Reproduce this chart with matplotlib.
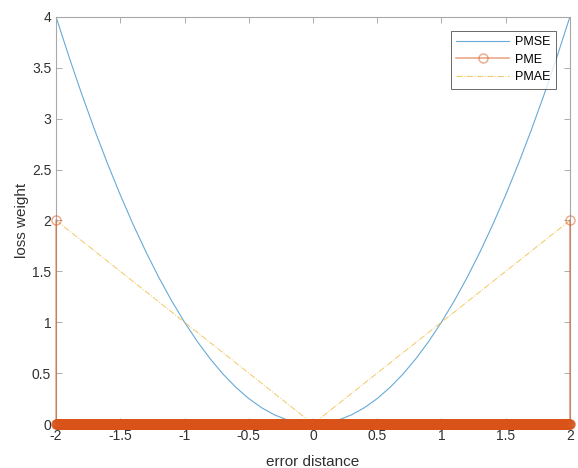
import numpy as np
import matplotlib
matplotlib.use('Agg')
import matplotlib.pyplot as plt

plt.rcParams['font.family'] = ['Liberation Sans', 'DejaVu Sans']

# PMSE at steps of 0.1
pmse_x = [-2.0, -1.9, -1.8, -1.7, -1.6, -1.5, -1.4, -1.3, -1.2, -1.1, -1.0,
          -0.9, -0.8, -0.7, -0.6, -0.5, -0.4, -0.3, -0.2, -0.1, 0.0,
          0.1, 0.2, 0.3, 0.4, 0.5, 0.6, 0.7, 0.8, 0.9, 1.0,
          1.1, 1.2, 1.3, 1.4, 1.5, 1.6, 1.7, 1.8, 1.9, 2.0]
pmse_y = [4.0, 3.61, 3.24, 2.89, 2.56, 2.25, 1.96, 1.69, 1.44, 1.21, 1.0,
          0.81, 0.64, 0.49, 0.36, 0.25, 0.16, 0.09, 0.04, 0.01, 0.0,
          0.01, 0.04, 0.09, 0.16, 0.25, 0.36, 0.49, 0.64, 0.81, 1.0,
          1.21, 1.44, 1.69, 1.96, 2.25, 2.56, 2.89, 3.24, 3.61, 4.0]

# PME: zero everywhere, spikes to 2 at the two edges
pme_count = 1601
pme_edge = 2.0
pme_inner = 0.0

# PMAE corner points
pmae_x = [-2.0, 0.0, 2.0]
pmae_y = [2.0, 0.0, 2.0]

xticks = [-2, -1.5, -1, -0.5, 0, 0.5, 1, 1.5, 2]
xtick_labels = ['-2', '-1.5', '-1', '-0.5', '0', '0.5', '1', '1.5', '2']
yticks = [0, 0.5, 1, 1.5, 2, 2.5, 3, 3.5, 4]
ytick_labels = ['0', '0.5', '1', '1.5', '2', '2.5', '3', '3.5', '4']

inner_x = np.linspace(pmse_x[0], pmse_x[-1], pme_count)
pme_x = np.concatenate([[pmse_x[0]], inner_x, [pmse_x[-1]]])
pme_y = np.concatenate([[pme_edge], np.full(pme_count, pme_inner), [pme_edge]])

fig = plt.figure(figsize=(5.78, 4.68), dpi=100)
ax = fig.add_axes([0.097, 0.094, 0.889, 0.870])

ax.plot(pmse_x, pmse_y, color='#0072BD', linewidth=0.8, alpha=0.6, label='PMSE')
ax.plot(pme_x, pme_y, color='#D95319', linewidth=1.2, alpha=0.5, marker='o',
        markersize=6.5, markerfacecolor='none', markeredgewidth=1.0,
        clip_on=False, zorder=3, label='PME')
ax.plot(pmae_x, pmae_y, color='#EDB120', linewidth=0.7, linestyle='-.',
        alpha=0.7, label='PMAE')

ax.set_xlim(-2, 2)
ax.set_ylim(0, 4)
ax.set_xticks(xticks)
ax.set_xticklabels(xtick_labels)
ax.set_yticks(yticks)
ax.set_yticklabels(ytick_labels)
ax.tick_params(direction='in', top=True, right=True, length=4, width=0.6,
               colors='#a0a0a0', labelcolor='#303030', labelsize=10)
for s in ax.spines.values():
    s.set_color('#a8a8a8')
    s.set_linewidth(0.8)

ax.set_xlabel('error distance', fontsize=11, color='#303030', labelpad=9)
ax.set_ylabel('loss weight', fontsize=11, color='#303030', labelpad=2)

leg = ax.legend(loc='upper right', fontsize=9, frameon=True, fancybox=False,
                borderaxespad=1.1, handlelength=4.2, labelspacing=0.45,
                borderpad=0.45, handletextpad=0.5)
leg.get_frame().set_edgecolor('#262626')
leg.get_frame().set_linewidth(0.6)
leg.set_zorder(5)

fig.savefig('out.png', dpi=100)
